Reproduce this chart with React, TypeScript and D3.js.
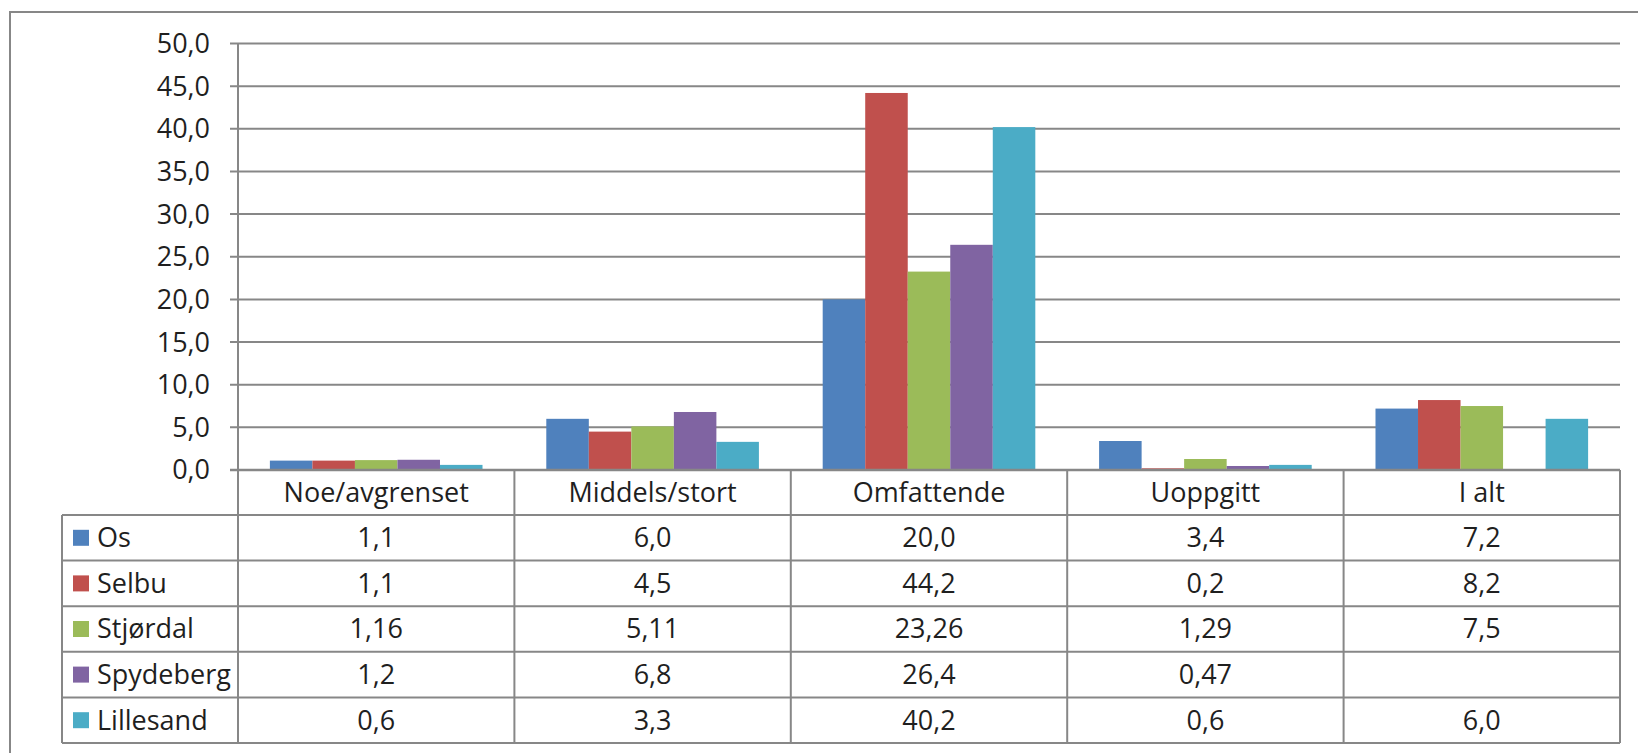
import { useRef, useEffect } from 'react';
import * as d3 from 'd3';

const categories = ['Noe/avgrenset', 'Middels/stort', 'Omfattende', 'Uoppgitt', 'I alt'];
const seriesNames = ['Os', 'Selbu', 'Stjørdal', 'Spydeberg', 'Lillesand'];
const seriesColors = ['#4F81BD', '#C0504D', '#9BBB59', '#8064A2', '#4BACC6'];

const osValues = [1.1, 6.0, 20.0, 3.4, 7.2];
const selbuValues = [1.1, 4.5, 44.2, 0.2, 8.2];
const stjordalValues = [1.16, 5.11, 23.26, 1.29, 7.5];
const spydebergValues: (number | null)[] = [1.2, 6.8, 26.4, 0.47, null];
const lillesandValues = [0.6, 3.3, 40.2, 0.6, 6.0];

const yTicks = [0, 5, 10, 15, 20, 25, 30, 35, 40, 45, 50];

const seriesValues: (number | null)[][] = [osValues, selbuValues, stjordalValues, spydebergValues, lillesandValues];

const W = 1638;
const H = 753;
const FONT = "'Open Sans', 'Noto Sans', sans-serif";
const FS = '27px';
const GRID = '#878787';
const TEXT = '#1f1f1f';

// 1,1 / 1,16 / 6,0 : same number of decimals as in the source table
function fmt(v: number | null) {
  if (v === null) return '';
  const oneDec = Math.abs(Math.round(v * 10) - v * 10) < 1e-6;
  return (oneDec ? v.toFixed(1) : v.toFixed(2)).replace('.', ',');
}

export default function App() {
  const svgRef = useRef<SVGSVGElement | null>(null);

  useEffect(() => {
    const svg = d3.select(svgRef.current);
    svg.selectAll('*').remove();

    const left = 238, right = 1620, top = 43.5, zeroY = 470;
    const headerBottom = 515, tableBottom = 743, tableLeft = 62;

    const x = d3.scaleBand<string>().domain(categories).range([left, right]);
    // Excel gap width 150% -> 0.75 of a bar on each side
    const xs = d3.scaleBand<string>()
      .domain(seriesNames)
      .range([0, x.bandwidth()])
      .paddingInner(0)
      .paddingOuter(0.75);
    const y = d3.scaleLinear().domain([0, 50]).range([zeroY, top]);
    const rows = d3.scaleBand<string>().domain(seriesNames).range([headerBottom, tableBottom]);

    // outer chart border (only top and left visible)
    svg.append('rect')
      .attr('x', 10).attr('y', 12)
      .attr('width', W + 20).attr('height', H + 20)
      .attr('fill', 'none').attr('stroke', GRID).attr('stroke-width', 2);

    // gridlines + tick marks + labels
    const yg = svg.append('g');
    yTicks.forEach((t) => {
      yg.append('line')
        .attr('x1', 230).attr('x2', right)
        .attr('y1', y(t)).attr('y2', y(t))
        .attr('stroke', GRID).attr('stroke-width', 2);
      yg.append('text')
        .attr('x', 210).attr('y', y(t))
        .attr('dy', '0.35em')
        .attr('text-anchor', 'end')
        .style('font-family', FONT).style('font-size', FS)
        .attr('fill', TEXT)
        .text(t.toFixed(1).replace('.', ','));
    });

    // bars
    seriesNames.forEach((name, si) => {
      seriesValues[si].forEach((v, ci) => {
        if (v === null) return;
        svg.append('rect')
          .attr('x', (x(categories[ci]) ?? 0) + (xs(name) ?? 0))
          .attr('y', y(v))
          .attr('width', xs.bandwidth())
          .attr('height', zeroY - y(v))
          .attr('fill', seriesColors[si]);
      });
    });

    // axis line over bars
    svg.append('line')
      .attr('x1', 230).attr('x2', right)
      .attr('y1', zeroY).attr('y2', zeroY)
      .attr('stroke', GRID).attr('stroke-width', 2.5);
    svg.append('line')
      .attr('x1', left).attr('x2', left)
      .attr('y1', top).attr('y2', tableBottom)
      .attr('stroke', GRID).attr('stroke-width', 2);

    // data table
    const tg = svg.append('g').attr('stroke', GRID).attr('stroke-width', 2);
    categories.forEach((c) => {
      const x1 = (x(c) ?? 0) + x.bandwidth();
      tg.append('line')
        .attr('x1', x1).attr('x2', x1)
        .attr('y1', zeroY).attr('y2', tableBottom);
    });
    tg.append('line')
      .attr('x1', tableLeft).attr('x2', tableLeft)
      .attr('y1', headerBottom).attr('y2', tableBottom);
    tg.append('line')
      .attr('x1', tableLeft).attr('x2', right)
      .attr('y1', headerBottom).attr('y2', headerBottom);
    seriesNames.forEach((s) => {
      const yb = (rows(s) ?? 0) + rows.bandwidth();
      tg.append('line')
        .attr('x1', tableLeft).attr('x2', right)
        .attr('y1', yb).attr('y2', yb);
    });

    // header labels
    categories.forEach((c) => {
      svg.append('text')
        .attr('x', (x(c) ?? 0) + x.bandwidth() / 2)
        .attr('y', (zeroY + headerBottom) / 2)
        .attr('dy', '0.35em')
        .attr('text-anchor', 'middle')
        .style('font-family', FONT).style('font-size', FS)
        .attr('fill', TEXT)
        .text(c);
    });

    // rows: legend key + values
    seriesNames.forEach((s, si) => {
      const cy = (rows(s) ?? 0) + rows.bandwidth() / 2;
      svg.append('rect')
        .attr('x', 73).attr('y', cy - 8)
        .attr('width', 16).attr('height', 16)
        .attr('fill', seriesColors[si]);
      svg.append('text')
        .attr('x', 97).attr('y', cy)
        .attr('dy', '0.35em')
        .style('font-family', FONT).style('font-size', FS)
        .attr('fill', TEXT)
        .text(s);
      seriesValues[si].forEach((v, ci) => {
        svg.append('text')
          .attr('x', (x(categories[ci]) ?? 0) + x.bandwidth() / 2)
          .attr('y', cy)
          .attr('dy', '0.35em')
          .attr('text-anchor', 'middle')
          .style('font-family', FONT).style('font-size', FS)
          .attr('fill', TEXT)
          .text(fmt(v));
      });
    });
  }, []);

  return (
    <svg
      ref={svgRef}
      width={W}
      height={H}
      style={{ position: 'absolute', left: 0, top: 0, background: '#fff' }}
    />
  );
}
